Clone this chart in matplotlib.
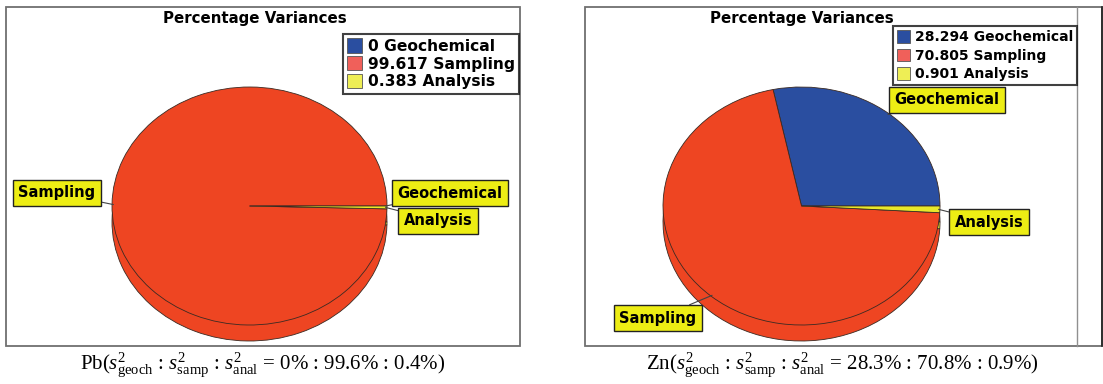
import matplotlib
matplotlib.use("Agg")
import matplotlib.pyplot as plt
from matplotlib.patches import Patch, Rectangle
from matplotlib.lines import Line2D
import numpy as np

# ---- data ----
components = ["Geochemical", "Sampling", "Analysis"]
pb_values = [0.0, 99.617, 0.383]
zn_values = [28.294, 70.805, 0.901]
element_names = ["Pb", "Zn"]
sub_names = ["geoch", "samp", "anal"]
title_text = "Percentage Variances"

# ---- style ----
pie_colors = ["#2A4EA0", "#EE4522", "#E8E82A"]
legend_colors = ["#2A4EA0", "#F0605A", "#EEEE55"]
label_face = "#EDED14"
edge_dark = "#3A2A22"

W, H = 1103, 384
fig = plt.figure(figsize=(W / 100, H / 100), dpi=100)
plt.rcParams["mathtext.fontset"] = "custom"
plt.rcParams["mathtext.rm"] = "Liberation Serif"
plt.rcParams["mathtext.it"] = "Liberation Serif:italic"


def fx(x):
    return x / W


def fy(y):
    return 1 - y / H


def panel(values, frame, title_x, legend_box, legend_size, legend_gap,
          pie_box, label_pos, caption_x, element):
    # outer frame
    x0, y0, x1, y1 = frame
    fig.add_artist(Rectangle((fx(x0), fy(y1)), fx(x1 - x0), (y1 - y0) / H,
                             transform=fig.transFigure, fill=False,
                             ec="#707070", lw=1.3))
    fig.text(fx(title_x), fy(18), title_text, ha="center", va="center",
             fontsize=10.8, fontweight="bold", family="DejaVu Sans")

    # pie with depth: a lower copy forms the rim, the upper one the face
    cx, cy, rx, ry, depth = pie_box
    ax = fig.add_axes([fx(cx - rx), fy(cy + ry + depth), 2 * rx / W,
                       (2 * ry + depth) / H])
    d = depth / ry
    wp = dict(edgecolor=edge_dark, linewidth=0.6)
    ax.pie(values, colors=pie_colors, startangle=0, counterclock=True,
           center=(0, -d), radius=1, wedgeprops=wp, normalize=True)
    wedges, _ = ax.pie(values, colors=pie_colors, startangle=0,
                       counterclock=True, center=(0, 0), radius=1,
                       wedgeprops=wp, normalize=True)
    ax.set_aspect("auto")
    ax.set_xlim(-1, 1)
    ax.set_ylim(-1 - d, 1)
    ax.axis("off")

    # callout labels with leaders to each wedge
    for w, name in zip(wedges, components):
        mid = np.deg2rad((w.theta1 + w.theta2) / 2)
        tx, ty = label_pos[name]
        ax.annotate(name, xy=(0.99 * np.cos(mid), 0.99 * np.sin(mid)),
                    xycoords="data", xytext=(tx, H - ty),
                    textcoords="figure pixels", ha="center", va="center",
                    fontsize=10.5, fontweight="bold", family="DejaVu Sans",
                    bbox=dict(boxstyle="square,pad=0.36", fc=label_face,
                              ec="#222222", lw=1.0),
                    arrowprops=dict(arrowstyle="-", color="#444444", lw=0.8,
                                    shrinkA=0, shrinkB=0),
                    annotation_clip=False, zorder=5)

    # legend
    lx, ly = legend_box
    handles = [Patch(facecolor=c, edgecolor="#555555", lw=0.6)
               for c in legend_colors]
    labels = [f"{v:g} {n}" for v, n in zip(values, components)]
    leg = fig.legend(handles, labels, loc="upper left",
                     bbox_to_anchor=(fx(lx), fy(ly)),
                     bbox_transform=fig.transFigure, frameon=True,
                     fancybox=False, shadow=False, borderpad=0.28,
                     handlelength=0.95, handleheight=1.05, handletextpad=0.35,
                     labelspacing=legend_gap, borderaxespad=0,
                     prop=dict(family="DejaVu Sans", weight="bold",
                               size=legend_size))
    leg.get_frame().set_edgecolor("#111111")
    leg.get_frame().set_linewidth(1.5)

    # caption
    pct = [f"{round(v, 1):g}%" for v in values]
    parts = " : ".join(rf"$s^{{2}}_{{\mathrm{{{s}}}}}$" for s in sub_names)
    caption = f"{element}({parts} = " + " : ".join(pct) + ")"
    fig.text(fx(caption_x), fy(365), caption, ha="center", va="center",
             fontsize=15, family="Liberation Serif")


panel(pb_values, (6, 7, 520, 346), 255, (343, 34), 11.2, 0.14,
      (249.5, 206, 137.5, 119, 16),
      {"Sampling": (57, 193), "Geochemical": (450, 193),
       "Analysis": (438, 221)},
      263, element_names[0])

panel(zn_values, (585, 7, 1102, 346), 802, (893, 26), 10.0, 0.32,
      (801.5, 206, 138.5, 119, 16),
      {"Geochemical": (947, 100), "Analysis": (989, 222),
       "Sampling": (658, 318)},
      842, element_names[1])

# inner divider and darker right edge on the right panel
fig.add_artist(Line2D([fx(1077), fx(1077)], [fy(7), fy(346)],
                      transform=fig.transFigure, color="#909090", lw=1.0))
fig.add_artist(Line2D([fx(1101.5), fx(1101.5)], [fy(7), fy(346)],
                      transform=fig.transFigure, color="#222222", lw=1.2))

fig.savefig("out.png", dpi=100)
